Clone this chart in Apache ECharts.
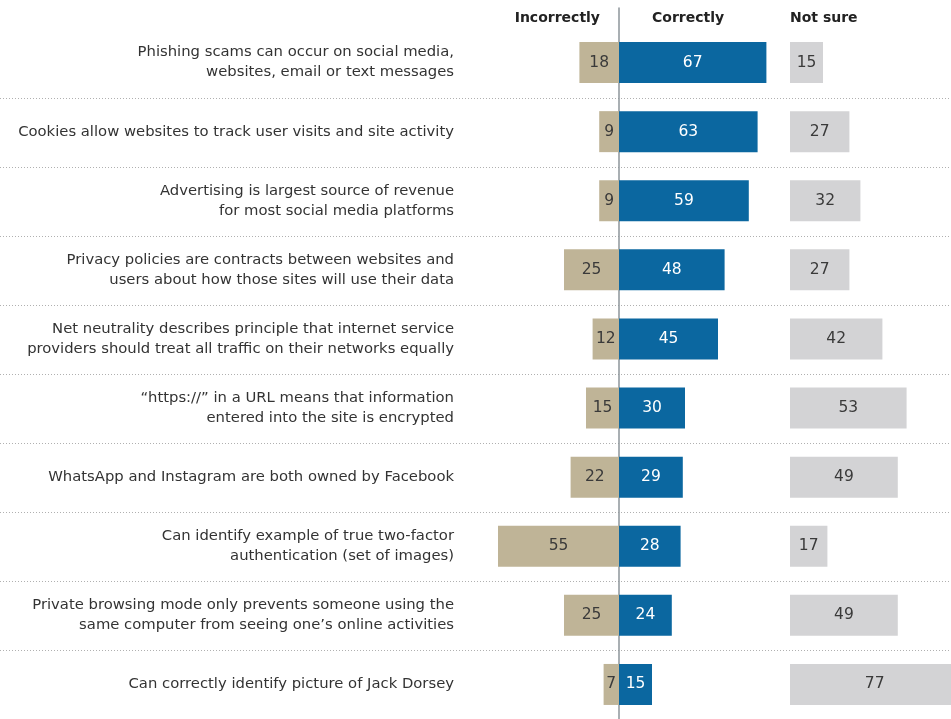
<!DOCTYPE html>
<html><head><meta charset="utf-8">
<script src="https://cdn.jsdelivr.net/npm/echarts@6/dist/echarts.min.js"></script>
<style>html,body{margin:0;padding:0;background:#fff}#c{width:951px;height:719px}</style>
</head><body><div id="c"></div>
<script>
const categories = [
  "Phishing scams can occur on social media,\nwebsites, email or text messages",
  "Cookies allow websites to track user visits and site activity",
  "Advertising is largest source of revenue\nfor most social media platforms",
  "Privacy policies are contracts between websites and\nusers about how those sites will use their data",
  "Net neutrality describes principle that internet service\nproviders should treat all traffic on their networks equally",
  "\u201chttps://\u201d in a URL means that information\nentered into the site is encrypted",
  "WhatsApp and Instagram are both owned by Facebook",
  "Can identify example of true two-factor\nauthentication (set of images)",
  "Private browsing mode only prevents someone using the\nsame computer from seeing one\u2019s online activities",
  "Can correctly identify picture of Jack Dorsey"
];
const incorrectly = [18, 9, 9, 25, 12, 15, 22, 55, 25, 7];
const correctly = [67, 63, 59, 48, 45, 30, 29, 28, 24, 15];
const notSure = [15, 27, 32, 27, 42, 53, 49, 17, 49, 77];
const headers = ["Incorrectly", "Correctly", "Not sure"];

const FONT = "'DejaVu Sans', sans-serif";
const PX = 2.2; // pixels per percentage point
const TOP = 28, H = 702;
const CENTER = 619, NS_LEFT = 790, W = 951;

const chart = echarts.init(document.getElementById('c'));
const hiddenVal = (gi, max, inverse) => ({
  type: 'value', gridIndex: gi, min: 0, max: max, inverse: !!inverse,
  show: false, splitLine: {show: false}
});
const catAxis = (gi, extra) => Object.assign({
  type: 'category', gridIndex: gi, data: categories, inverse: true,
  axisLine: {show: false}, axisTick: {show: false}, axisLabel: {show: false},
  splitLine: {show: false}
}, extra || {});
const barLabel = (color) => ({
  show: true, position: 'inside', color: color,
  fontFamily: FONT, fontSize: 15.5
});

chart.setOption({
  animation: false,
  grid: [
    {left: CENTER - 60 * PX, width: 60 * PX, top: TOP, height: H},
    {left: CENTER, width: 70 * PX, top: TOP, height: H},
    {left: NS_LEFT, right: 0, top: TOP, height: H},
    {left: 0, right: 0, top: TOP + H / 10, height: H * 9 / 10},
    {left: CENTER, width: 1, top: 8, bottom: 0}
  ],
  xAxis: [
    hiddenVal(0, 60, true),
    hiddenVal(1, 70),
    hiddenVal(2, (W - NS_LEFT) / PX),
    {type: 'value', gridIndex: 3, show: false, min: 0, max: 1},
    {type: 'value', gridIndex: 4, show: false, min: 0, max: 1}
  ],
  yAxis: [
    catAxis(0, {
      position: 'left',
      axisLabel: {show: true, margin: CENTER - 60 * PX - 454, color: '#333',
        fontFamily: FONT, fontSize: 14.8, lineHeight: 20, align: 'right'}
    }),
    catAxis(1),
    catAxis(2),
    {type: 'value', gridIndex: 3, min: 1, max: 10, interval: 1,
      axisLine: {show: false}, axisTick: {show: false}, axisLabel: {show: false},
      splitLine: {show: true, lineStyle: {color: '#b0b0b0', type: [1, 2], width: 1}}},
    {type: 'value', gridIndex: 4, min: 0, max: 1, position: 'left',
      axisLine: {show: true, onZero: false, lineStyle: {color: '#8d949a', width: 1.5}},
      axisTick: {show: false}, axisLabel: {show: false}, splitLine: {show: false}}
  ],
  graphic: [
    {type: 'text', right: W - 600, top: 11, style: {text: headers[0], fontFamily: FONT, fontSize: 14, fontWeight: 'bold', fill: '#222'}},
    {type: 'text', left: 652, top: 11, style: {text: headers[1], fontFamily: FONT, fontSize: 14, fontWeight: 'bold', fill: '#222'}},
    {type: 'text', left: 790, top: 11, style: {text: headers[2], fontFamily: FONT, fontSize: 14, fontWeight: 'bold', fill: '#222'}}
  ],
  series: [
    {type: 'bar', xAxisIndex: 0, yAxisIndex: 0, data: incorrectly, barWidth: 41,
      itemStyle: {color: '#bfb497'}, label: barLabel('#3a3a3a')},
    {type: 'bar', xAxisIndex: 1, yAxisIndex: 1, data: correctly, barWidth: 41,
      itemStyle: {color: '#0b67a0'}, label: barLabel('#ffffff')},
    {type: 'bar', xAxisIndex: 2, yAxisIndex: 2, data: notSure, barWidth: 41, clip: false,
      itemStyle: {color: '#d3d3d5'}, label: barLabel('#3a3a3a')}
  ]
});
</script></body></html>
